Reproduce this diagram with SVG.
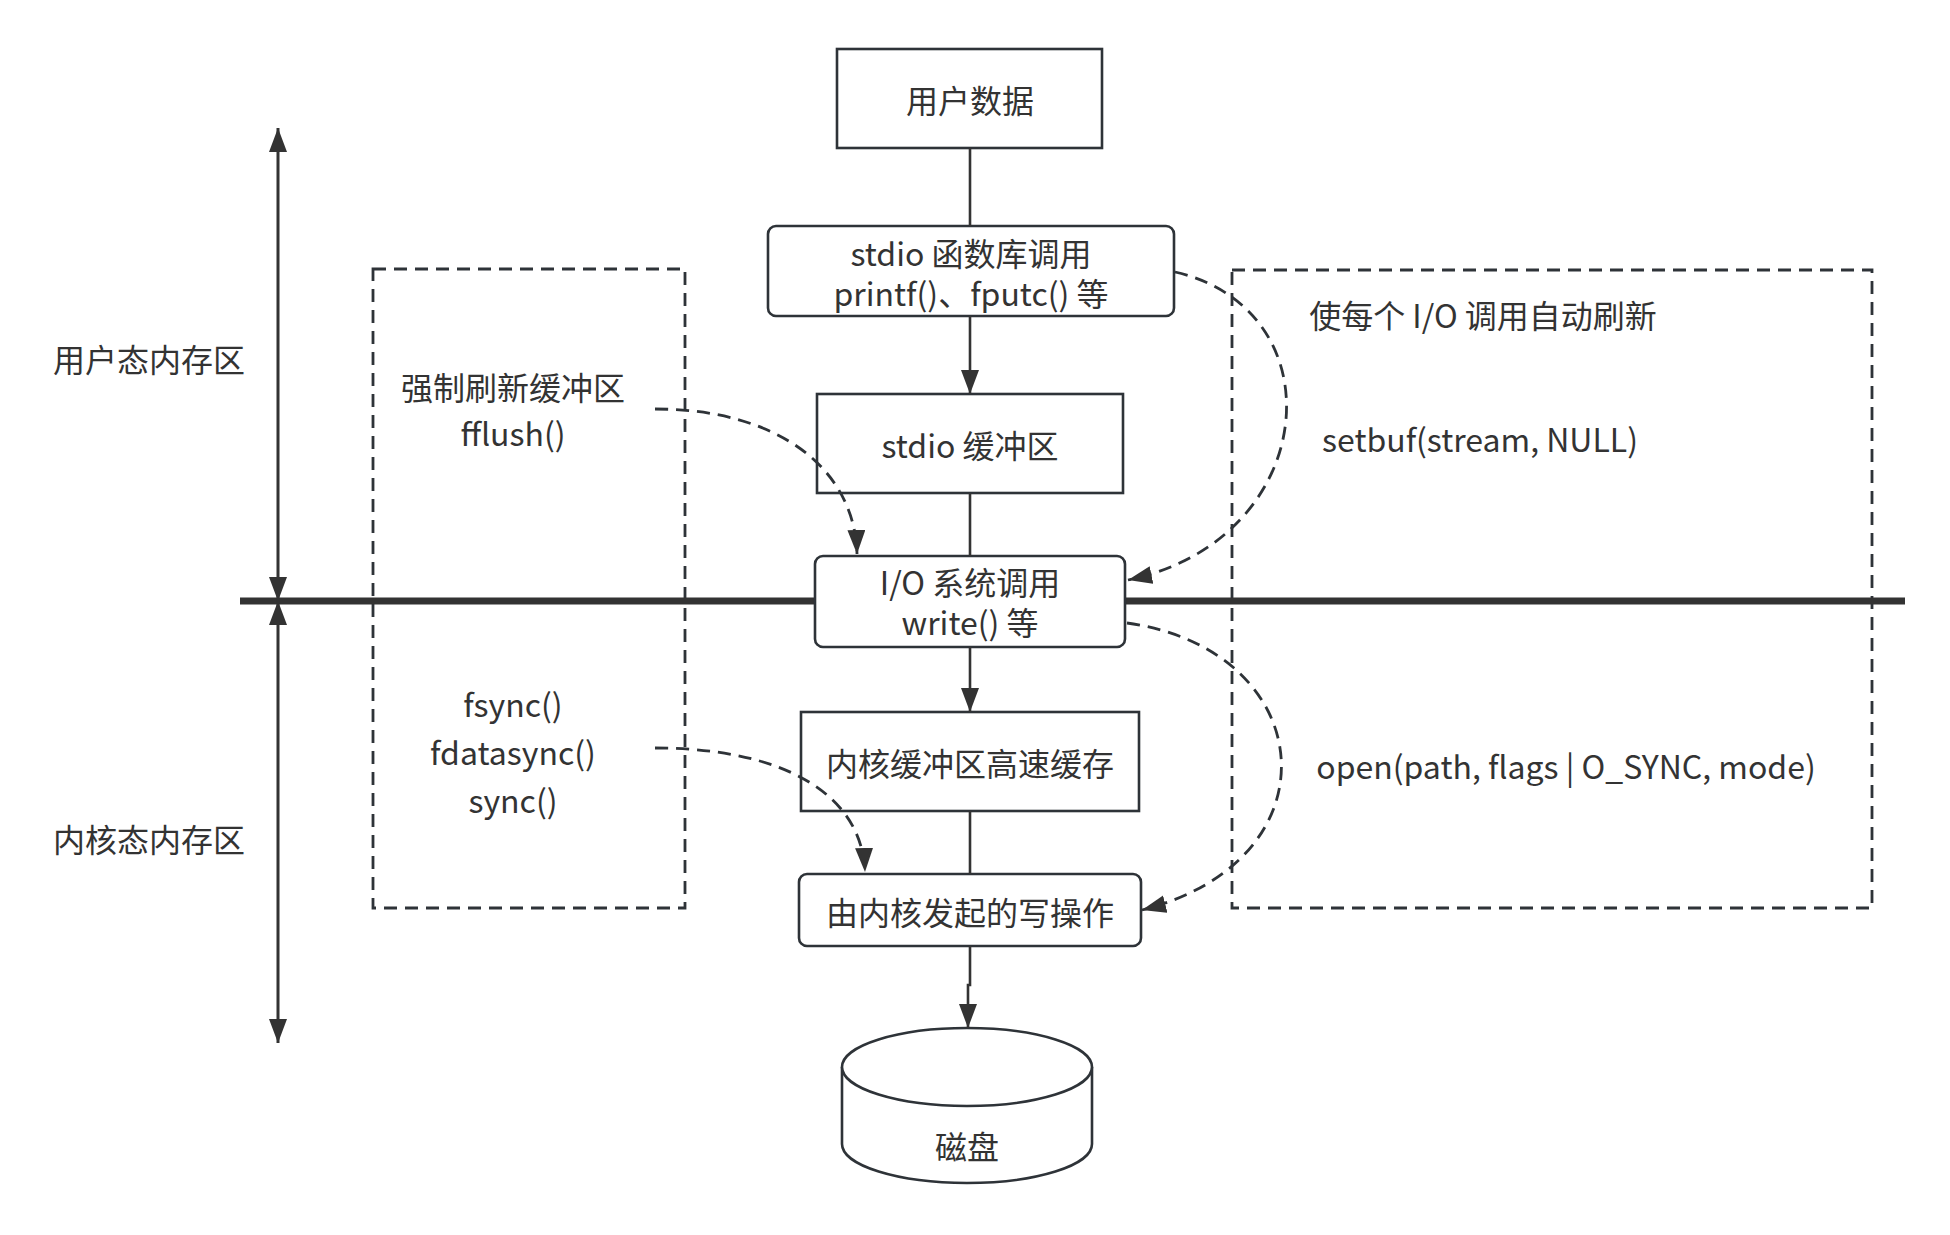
<svg xmlns="http://www.w3.org/2000/svg" width="1950" height="1235" viewBox="0 0 1950 1235">
<style>
.box{fill:#ffffff;stroke:#2e3338;stroke-width:2.6}
.t{font-family:"Noto Sans CJK SC","Noto Sans",sans-serif;font-size:32px;fill:#333333;text-anchor:middle;dominant-baseline:central}
.ln{fill:none;stroke:#333333;stroke-width:2.6}
.dash{fill:none;stroke:#2e3338;stroke-width:2.8;stroke-dasharray:13 8}
.axis{fill:none;stroke:#333333;stroke-width:3}
</style>
<defs>
<marker id="ah" markerUnits="userSpaceOnUse" markerWidth="26" markerHeight="20" refX="24" refY="9" orient="auto-start-reverse" viewBox="0 0 26 20">
<path d="M0,0 L24,9 L0,18 z" fill="#333333" stroke="none"/>
</marker>
</defs>
<rect width="1950" height="1235" fill="#ffffff"/>

<g id="zones">
<rect id="left-zone" class="dash" x="373" y="269" width="312" height="639"/>
<rect id="right-zone" class="dash" x="1232" y="270" width="640" height="638"/>
</g>

<g id="divider">
<line x1="240" y1="601" x2="1905" y2="601" stroke="#333333" stroke-width="7"/>
</g>

<g id="user-data">
<rect class="box" x="837" y="49" width="265" height="99"/>
<text class="t" x="970" y="99">用户数据</text>
</g>
<g id="stdio-lib">
<rect class="box" x="768" y="226" width="406" height="90" rx="8"/>
<text class="t" x="971"><tspan x="971" y="252">stdio 函数库调用</tspan><tspan x="971" y="292">printf()、fputc() 等</tspan></text>
</g>
<g id="stdio-buffer">
<rect class="box" x="817" y="394" width="306" height="99"/>
<text class="t" x="970" y="444">stdio 缓冲区</text>
</g>
<g id="io-syscall">
<rect class="box" x="815" y="556" width="310" height="91" rx="8"/>
<text class="t" x="970"><tspan x="970" y="581">I/O 系统调用</tspan><tspan x="970" y="621">write() 等</tspan></text>
</g>
<g id="kernel-cache">
<rect class="box" x="801" y="712" width="338" height="99"/>
<text class="t" x="970" y="762">内核缓冲区高速缓存</text>
</g>
<g id="kernel-write">
<rect class="box" x="799" y="874" width="342" height="72" rx="8"/>
<text class="t" x="970" y="911">由内核发起的写操作</text>
</g>
<g id="disk">
<path class="box" d="M842,1067 A125,39 0 0 1 1092,1067 L1092,1144 A125,39 0 0 1 842,1144 Z"/>
<path class="box" fill="none" d="M842,1067 A125,39 0 0 0 1092,1067"/>
<text class="t" x="967" y="1145">磁盘</text>
</g>

<g id="connectors">
<line class="ln" x1="970" y1="148" x2="970" y2="226"/>
<line class="ln" x1="970" y1="316" x2="970" y2="394" marker-end="url(#ah)"/>
<line class="ln" x1="970" y1="493" x2="970" y2="556"/>
<line class="ln" x1="970" y1="647" x2="970" y2="712" marker-end="url(#ah)"/>
<line class="ln" x1="970" y1="811" x2="970" y2="874"/>
<path class="ln" d="M970,946 L970,985 L968,985 L968,1028" marker-end="url(#ah)"/>
<path class="dash" d="M655,409 C780,409 855,470 857,554" marker-end="url(#ah)"/>
<path class="dash" d="M655,748 C785,748 862,795 865,872" marker-end="url(#ah)"/>
<path class="dash" d="M1175,272 C1340,310 1320,540 1128,580" marker-end="url(#ah)"/>
<path class="dash" d="M1127,623 C1320,650 1340,860 1142,910" marker-end="url(#ah)"/>
<line class="axis" x1="278" y1="128" x2="278" y2="601" marker-start="url(#ah)" marker-end="url(#ah)"/>
<line class="axis" x1="278" y1="601" x2="278" y2="1043" marker-start="url(#ah)" marker-end="url(#ah)"/>
</g>

<g id="labels">
<text class="t" x="149" y="358">用户态内存区</text>
<text class="t" x="149" y="838">内核态内存区</text>
<text class="t" x="513"><tspan x="513" y="386">强制刷新缓冲区</tspan><tspan x="513" y="432">fflush()</tspan></text>
<text class="t" x="513"><tspan x="513" y="703">fsync()</tspan><tspan x="513" y="751">fdatasync()</tspan><tspan x="513" y="799">sync()</tspan></text>
<text class="t" x="1483" y="314">使每个 I/O 调用自动刷新</text>
<text class="t" x="1480" y="438">setbuf(stream, NULL)</text>
<text class="t" x="1566" y="765">open(path, flags | O_SYNC, mode)</text>
</g>
</svg>
